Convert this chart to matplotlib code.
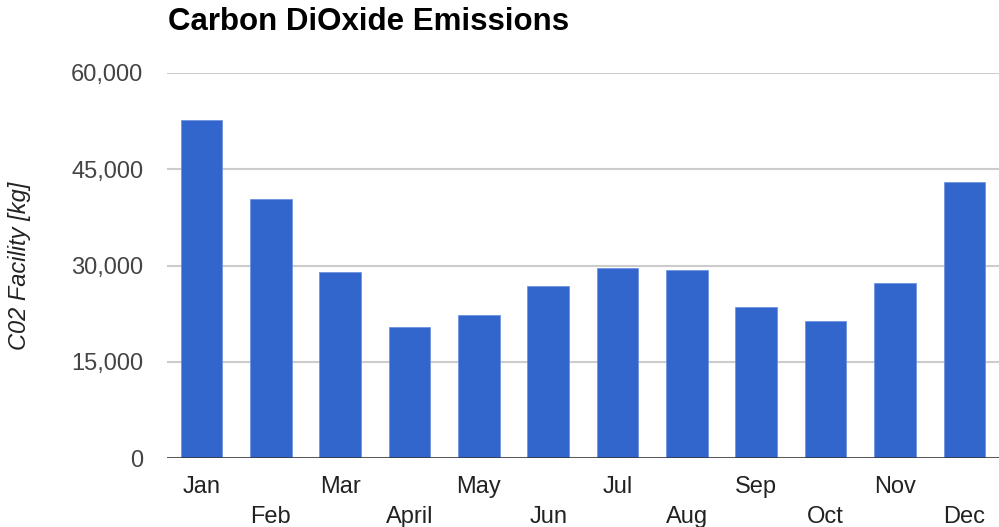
#Bar chart of monthly carbon dioxide emissions
#Figure is saved as out.png
import matplotlib.pyplot as plt
from matplotlib.ticker import FuncFormatter

#Values
months = ['Jan', 'Feb', 'Mar', 'April', 'May', 'Jun',
          'Jul', 'Aug', 'Sep', 'Oct', 'Nov', 'Dec']
emissions = [52700, 40300, 29000, 20500, 22300, 26800,
             29600, 29300, 23500, 21400, 27200, 43000]
y_ticks = [0, 15000, 30000, 45000, 60000]

plt.rcParams['font.family'] = ['Liberation Sans', 'DejaVu Sans']

fig = plt.figure(figsize=(9.99, 5.27), dpi=100)
ax = fig.add_axes([0.167, 0.1304, 0.833, 0.7316])

x = list(range(len(months)))
ax.bar(x, emissions, width=0.6, color='#3366cc', edgecolor='#6f93e0',
       linewidth=0.6, zorder=3)

#Axis limits, grid and baseline in the Google Charts look
ax.set_xlim(-0.5, 11.5)
ax.set_ylim(0, 60000)
ax.set_yticks(y_ticks)
ax.yaxis.set_major_formatter(FuncFormatter(lambda v, p: '{:,.0f}'.format(v)))
ax.grid(axis='y', color='#cccccc', linewidth=1.5, zorder=0)
ax.axhline(0, color='#333333', linewidth=1.8, zorder=4)
for side in ['top', 'right', 'left', 'bottom']:
    ax.spines[side].set_visible(False)

ax.tick_params(axis='y', length=0, pad=17, labelsize=17, labelcolor='#444444')
ax.tick_params(axis='x', length=0, labelsize=17, labelcolor='#222222')

#Month labels alternate between two rows
ax.set_xticks(x)
ax.set_xticklabels(months)
for i, tick in enumerate(ax.xaxis.get_major_ticks()):
    tick.set_pad(12.5 if i % 2 == 0 else 34)

ax.set_ylabel('C02 Facility [kg]', fontsize=17, style='italic', color='#222222',
              labelpad=0)
ax.yaxis.set_label_coords(-0.163, 0.5)

fig.text(0.168, 0.958, 'Carbon DiOxide Emissions', fontsize=22.5, fontweight='bold',
         ha='left', va='center', color='black')

plt.savefig('out.png', dpi=100)
